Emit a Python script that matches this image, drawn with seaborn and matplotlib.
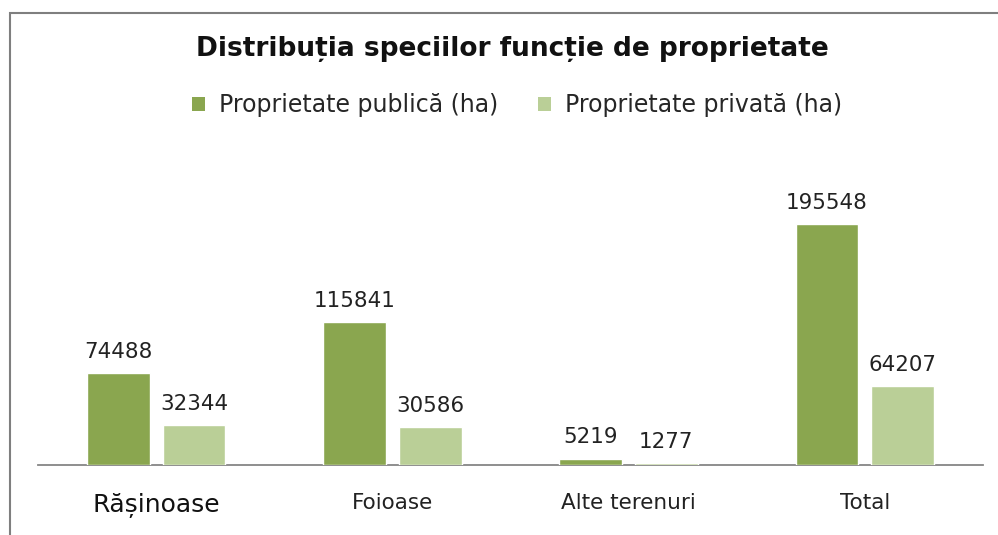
import pandas as pd
import matplotlib.pyplot as plt
import seaborn as sns
from matplotlib.patches import Rectangle, Patch

categories = ["Rășinoase", "Foioase", "Alte terenuri", "Total"]
publica = [74488, 115841, 5219, 195548]
privata = [32344, 30586, 1277, 64207]
series = ["Proprietate publică (ha)", "Proprietate privată (ha)"]

df = pd.DataFrame({
    "cat": categories * 2,
    "val": publica + privata,
    "serie": [series[0]] * 4 + [series[1]] * 4,
})

sns.set_theme(style="white")
plt.rcParams['font.family'] = ['DejaVu Sans']

colors = ["#8AA64F", "#BACF97"]

fig = plt.figure(figsize=(9.98, 5.35), dpi=100)
ax = fig.add_axes([38 / 998, 70 / 535, 945 / 998, 308 / 535])

sns.barplot(data=df, x="cat", y="val", hue="serie", palette=colors,
            width=0.64, gap=0.17, ax=ax, legend=False, saturation=1)

for cont in ax.containers:
    ax.bar_label(cont, labels=[f"{int(v)}" for v in cont.datavalues],
                 padding=8, fontsize=15.4, color="#222222")

ax.set_xlim(-0.5, 3.5)
ax.set_ylim(0, 250000)
ax.set_xlabel("")
ax.set_ylabel("")
ax.set_yticks([])
for s in ["top", "right", "left"]:
    ax.spines[s].set_visible(False)
ax.spines["bottom"].set_color("#868686")
ax.spines["bottom"].set_linewidth(1.3)
ax.spines["bottom"].set_zorder(0)
ax.tick_params(axis="x", length=0, pad=20)
ax.set_xticks(range(len(categories)))
ax.set_xticklabels(categories)
for i, t in enumerate(ax.get_xticklabels()):
    t.set_fontsize(18 if i == 0 else 15.5)
    t.set_color("#111111" if i == 0 else "#222222")

fig.text(0.513, 1 - 49 / 535, "Distribuția speciilor funcție de proprietate",
         ha="center", va="center", fontsize=19, fontweight="bold", color="#111111")

handles = [Patch(facecolor=c, edgecolor="none") for c in colors]
fig.legend(handles, series, loc="center", bbox_to_anchor=(0.518, 1 - 105 / 535),
           ncol=2, frameon=False, fontsize=17, handlelength=0.55, handleheight=0.55,
           handletextpad=0.6, columnspacing=1.7)

# chart frame (cropped at right and bottom)
fig.patches.append(Rectangle((10 / 998, -0.1), 1.2, 1 - 13 / 535 + 0.1,
                             transform=fig.transFigure, fill=False,
                             edgecolor="#7F7F7F", linewidth=1.5))

fig.savefig("out.png", dpi=100)
